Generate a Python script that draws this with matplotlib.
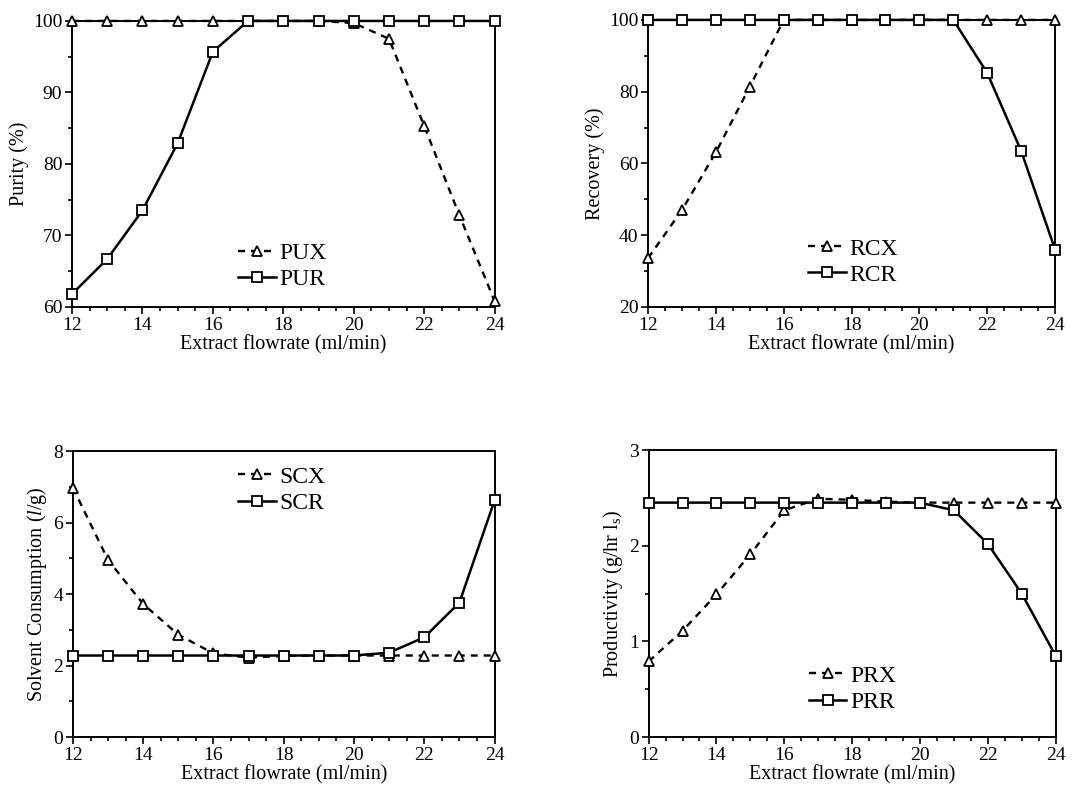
"""Four-panel SMB performance figure: purity, recovery, solvent use, productivity
versus extract flowrate, for the X (dashed, triangles) and R (solid, squares)
components."""
import matplotlib
matplotlib.use("Agg")
import matplotlib.pyplot as plt
from matplotlib.ticker import MultipleLocator

plt.rcParams["font.family"] = ["Liberation Serif", "DejaVu Serif"]
plt.rcParams["mathtext.fontset"] = "custom"
plt.rcParams["mathtext.rm"] = "Liberation Serif"
plt.rcParams["mathtext.it"] = "Liberation Serif:italic"

# Extract flowrate (ml/min)
FLOW = [12, 13, 14, 15, 16, 17, 18, 19, 20, 21, 22, 23, 24]

# Purity (%)
PUX = [100, 100, 100, 100, 100, 100, 100, 100, 99.7, 97.5, 85.3, 72.8, 60.8]
PUR = [61.8, 66.7, 73.5, 82.9, 95.7, 100, 100, 100, 100, 100, 100, 100, 100]

# Recovery (%)
RCX = [33.6, 47.0, 63.1, 81.4, 100, 100, 100, 100, 100, 100, 100, 100, 100]
RCR = [100, 100, 100, 100, 100, 100, 100, 100, 100, 100, 85.2, 63.5, 36.0]

# Solvent consumption (l/g)
SCX = [6.97, 4.95, 3.72, 2.86, 2.34, 2.22, 2.27, 2.28, 2.28, 2.28, 2.28, 2.28, 2.28]
SCR = [2.28, 2.28, 2.28, 2.28, 2.28, 2.28, 2.28, 2.28, 2.28, 2.36, 2.79, 3.76, 6.62]

# Productivity (g/hr l_s)
PRX = [0.79, 1.11, 1.49, 1.91, 2.37, 2.49, 2.48, 2.46, 2.45, 2.45, 2.45, 2.45, 2.45]
PRR = [2.45, 2.45, 2.45, 2.45, 2.45, 2.45, 2.45, 2.45, 2.45, 2.37, 2.02, 1.50, 0.85]

XLABEL = "Extract flowrate (ml/min)"


def panel(fig, rect, x_ser, r_ser, names, ylabel, ylim, ymaj, ymin, leg_y):
    ax = fig.add_axes(rect)
    ax.plot(FLOW, x_ser, ls=(0, (3, 2.5)), color="black", lw=1.7,
            marker="^", ms=7, mfc="white", mec="black", mew=1.3,
            clip_on=False, zorder=3, label=names[0])
    ax.plot(FLOW, r_ser, ls="-", color="black", lw=1.8,
            marker="s", ms=7, mfc="white", mec="black", mew=1.3,
            clip_on=False, zorder=3, label=names[1])
    ax.set_xlim(12, 24)
    ax.set_ylim(*ylim)
    ax.xaxis.set_major_locator(MultipleLocator(2))
    ax.xaxis.set_minor_locator(MultipleLocator(0.5))
    ax.yaxis.set_major_locator(MultipleLocator(ymaj))
    ax.yaxis.set_minor_locator(MultipleLocator(ymin))
    ax.tick_params(which="both", direction="out", top=False, right=False,
                   labelsize=14, width=1.2, pad=2)
    ax.tick_params(which="major", length=5)
    ax.tick_params(which="minor", length=3)
    for s in ax.spines.values():
        s.set_linewidth(1.4)
    ax.set_xlabel(XLABEL, fontsize=14.5, labelpad=1)
    ax.set_ylabel(ylabel, fontsize=14.5, labelpad=3)
    ax.legend(loc="center left", bbox_to_anchor=(0.37, leg_y), frameon=False,
              fontsize=17, handlelength=1.6, handletextpad=0.15,
              labelspacing=0.2, borderaxespad=0)
    return ax


fig = plt.figure(figsize=(10.81, 7.87), dpi=100)

panel(fig, [0.0666, 0.610, 0.391, 0.3634], PUX, PUR, ["PUX", "PUR"],
      "Purity (%)", (60, 100), 10, 5, 0.142)
panel(fig, [0.5995, 0.610, 0.3765, 0.3647], RCX, RCR, ["RCX", "RCR"],
      "Recovery (%)", (20, 100), 20, 10, 0.157)
panel(fig, [0.0675, 0.0635, 0.390, 0.3634], SCX, SCR, ["SCX", "SCR"],
      "Solvent Consumption ($\\mathit{l}$/g)", (0, 8), 2, 1, 0.864)
panel(fig, [0.600, 0.0635, 0.3765, 0.3647], PRX, PRR, ["PRX", "PRR"],
      "Productivity (g/hr l$_\\mathregular{s}$)", (0, 3), 1, 0.5, 0.167)

fig.savefig("out.png", dpi=100)
